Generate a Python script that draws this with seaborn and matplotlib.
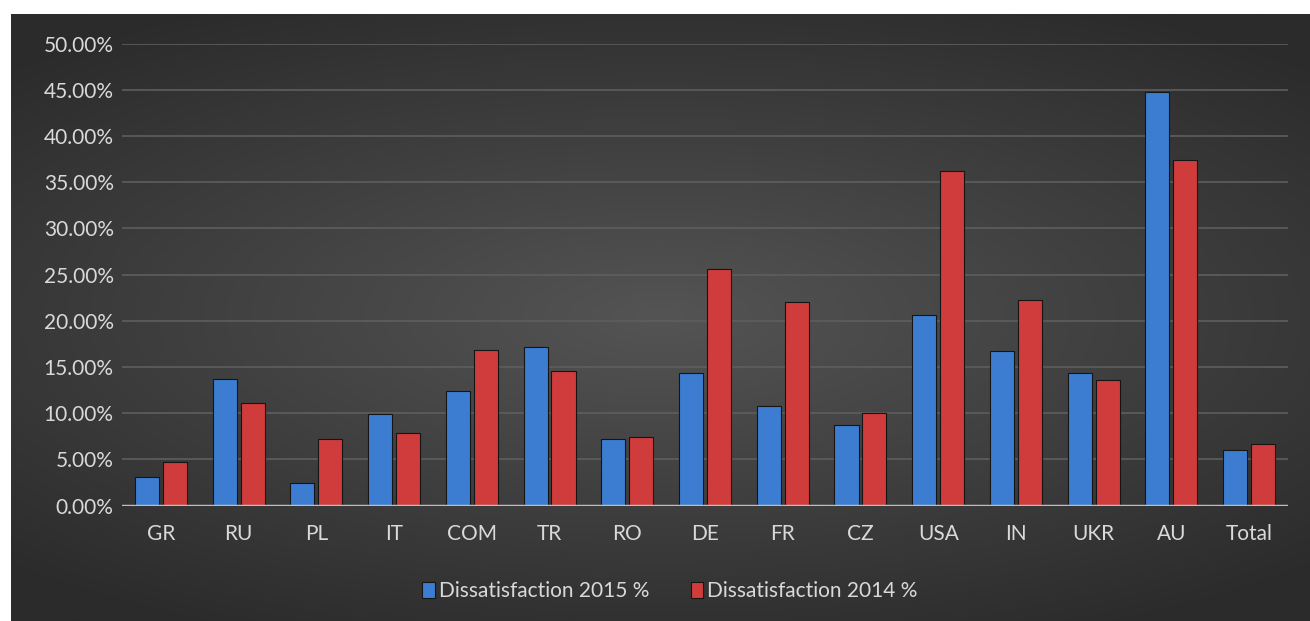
import matplotlib.pyplot as plt
import seaborn as sns
import numpy as np
import pandas as pd
from matplotlib.patches import Rectangle
from matplotlib.ticker import FuncFormatter, MultipleLocator

# data (percent)
countries = ['GR', 'RU', 'PL', 'IT', 'COM', 'TR', 'RO', 'DE', 'FR', 'CZ',
             'USA', 'IN', 'UKR', 'AU', 'Total']
dissat_2015 = [3.04, 13.68, 2.40, 9.86, 12.35, 17.20, 7.20, 14.32, 10.76, 8.70,
               20.63, 16.77, 14.32, 44.73, 5.96]
dissat_2014 = [4.67, 11.06, 7.20, 7.80, 16.85, 14.58, 7.42, 25.60, 22.04, 9.99,
               36.23, 22.26, 13.55, 37.44, 6.69]
series_names = ['Dissatisfaction 2015 %', 'Dissatisfaction 2014 %']

df = pd.DataFrame({
    'Country': countries * 2,
    'Value': dissat_2015 + dissat_2014,
    'Series': [series_names[0]] * len(countries) + [series_names[1]] * len(countries),
})

sns.set_style('dark')
plt.rcParams['font.family'] = ['Lato', 'DejaVu Sans']
text_col = '#d9d9d9'
bar_cols = ['#3c7dd2', '#d03c3c']

fig = plt.figure(figsize=(13.1, 6.21), dpi=100, facecolor='white')

# dark chart background with soft radial gradient
bg = fig.add_axes([11 / 1310, 0, 1 - 11 / 1310, 1 - 14 / 621], zorder=-1)
yy, xx = np.mgrid[-1:1:300j, -1:1:600j]
r = np.sqrt((xx * 0.9) ** 2 + (yy * 1.1) ** 2)
bg.imshow(r, cmap=sns.blend_palette(['#545454', '#2b2b2b'], as_cmap=True),
          aspect='auto', extent=[0, 1, 0, 1], vmin=0, vmax=1.3)
bg.set_axis_off()

ax = fig.add_axes([122 / 1310, 1 - 505.5 / 621, (1288 - 122) / 1310, (505.5 - 43.6) / 621])
ax.patch.set_alpha(0)

sns.barplot(data=df, x='Country', y='Value', hue='Series',
            palette=bar_cols, width=0.72, saturation=1,
            edgecolor='#151515', linewidth=0.8, ax=ax, legend=False, zorder=3)

# small gap between paired bars
for p in ax.patches:
    w = p.get_width()
    p.set_x(p.get_x() + w * 0.07)
    p.set_width(w * 0.86)

ax.set_ylim(0, 50)
ax.set_xlim(-0.5, len(countries) - 0.5)
ax.yaxis.set_major_locator(MultipleLocator(5))
ax.yaxis.set_major_formatter(FuncFormatter(lambda v, _: f'{v:.2f}%'))
ax.grid(axis='y', color='#5e5e5e', linewidth=1.2, zorder=0)
ax.grid(axis='x', visible=False)
ax.axhline(0, color='#bdbdbd', linewidth=2.5, zorder=4)
for s in ax.spines.values():
    s.set_visible(False)
ax.set_xlabel('')
ax.set_ylabel('')
ax.tick_params(axis='both', colors=text_col, labelsize=15, length=0)
ax.tick_params(axis='x', pad=13)
ax.tick_params(axis='y', pad=6)

handles = [Rectangle((0, 0), 1, 1, facecolor=c, edgecolor='#151515', linewidth=0.8)
           for c in bar_cols]
fig.legend(handles, series_names, loc='center', bbox_to_anchor=(670 / 1310, 1 - 591 / 621),
           ncol=2, frameon=False, fontsize=15, labelcolor=text_col,
           handlelength=0.6, handleheight=0.8, handletextpad=0.2, columnspacing=2.0)

fig.savefig('out.png', dpi=100, facecolor='white')
